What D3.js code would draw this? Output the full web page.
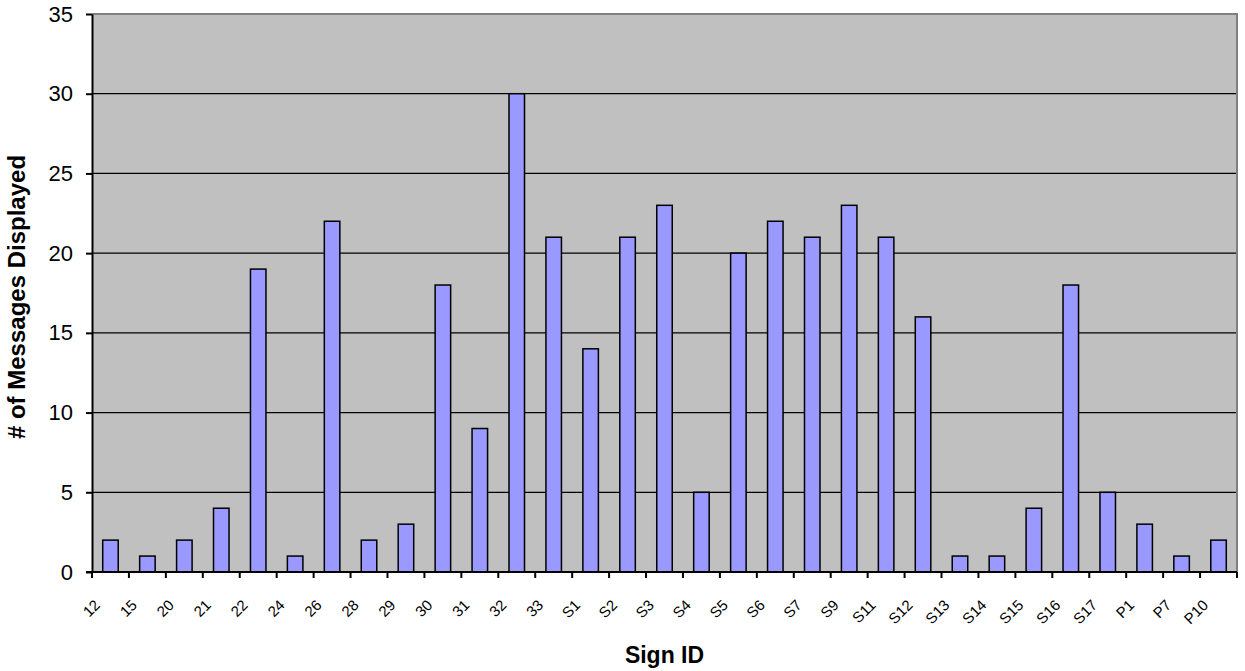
<!doctype html>
<html>
<head>
<meta charset="utf-8">
<script src="https://d3js.org/d3.v7.min.js"></script>
<style>
  body {margin: 0; background: #fff;}
  text {font-family: Arial, "Liberation Sans", sans-serif; fill: #000;}
</style>
</head>
<body>
<svg width="1245" height="671"></svg>
<script>
// sign ids and message counts
var signs = ["12","15","20","21","22","24","26","28","29","30","31","32","33",
             "S1","S2","S3","S4","S5","S6","S7","S9","S11","S12","S13","S14",
             "S15","S16","S17","P1","P7","P10"];
var messages = [2,1,2,4,19,1,22,2,3,18,9,30,21,14,21,23,5,20,22,21,23,21,16,1,1,4,18,5,3,1,2];
var yTicks = [0,5,10,15,20,25,30,35];

var plotL = 92, plotR = 1237, plotT = 14, plotB = 572;
var svg = d3.select("svg");

var x = d3.scaleBand().domain(signs).range([plotL, plotR]).padding(0);
var y = d3.scaleLinear().domain([0, 35]).range([plotB, plotT]);
var bw = x.bandwidth();

// plot area
svg.append("rect")
    .attr("x", plotL).attr("y", plotT)
    .attr("width", plotR - plotL).attr("height", plotB - plotT)
    .attr("fill", "#c0c0c0");

// gridlines
svg.append("g").selectAll("line")
    .data(yTicks.slice(1, -1))
    .enter().append("line")
      .attr("x1", plotL).attr("x2", plotR)
      .attr("y1", function(d){return y(d)}).attr("y2", function(d){return y(d)})
      .attr("stroke", "#000").attr("stroke-width", 1.2);

// gray frame top/right
svg.append("path")
    .attr("d", "M" + plotL + "," + plotT + "H" + plotR + "V" + plotB)
    .attr("fill", "none").attr("stroke", "#808080").attr("stroke-width", 2);

// bars
svg.append("g").selectAll("rect")
    .data(messages)
    .enter().append("rect")
      .attr("x", function(d, i){return x(signs[i]) + bw * 0.29})
      .attr("width", bw * 0.42)
      .attr("y", function(d){return y(d)})
      .attr("height", function(d){return y(0) - y(d)})
      .attr("fill", "#9999ff")
      .attr("stroke", "#000").attr("stroke-width", 1.5);

// y axis
var yAxis = svg.append("g")
    .attr("transform", "translate(" + plotL + ",0)")
    .call(d3.axisLeft(y).tickValues(yTicks).tickSize(6).tickSizeOuter(0).tickPadding(13));
yAxis.select(".domain").attr("stroke", "#000").attr("stroke-width", 2);
yAxis.selectAll(".tick line").attr("stroke", "#000").attr("stroke-width", 2);
yAxis.selectAll(".tick text")
    .style("font-family", "Arial, 'Liberation Sans', sans-serif")
    .style("font-size", "22px");

// x axis line and ticks at category boundaries
svg.append("line")
    .attr("x1", plotL - 6).attr("x2", plotR)
    .attr("y1", plotB).attr("y2", plotB)
    .attr("stroke", "#000").attr("stroke-width", 2);
var bounds = signs.map(function(s){return x(s)}).concat([plotR]);
svg.append("g").selectAll("line")
    .data(bounds)
    .enter().append("line")
      .attr("x1", function(d){return d}).attr("x2", function(d){return d})
      .attr("y1", plotB).attr("y2", plotB + 6)
      .attr("stroke", "#000").attr("stroke-width", 2);

// rotated category labels
svg.append("g").selectAll("text")
    .data(signs)
    .enter().append("text")
      .attr("transform", function(d){return "translate(" + (x(d) + 9) + ",606) rotate(-45)"})
      .attr("text-anchor", "end")
      .style("font-size", "15px")
      .text(function(d){return d});

// axis titles
svg.append("text")
    .attr("transform", "translate(25,297) rotate(-90)")
    .attr("text-anchor", "middle")
    .style("font-size", "24px").style("font-weight", "bold")
    .text("# of Messages Displayed");

svg.append("text")
    .attr("x", (plotL + plotR) / 2).attr("y", 663)
    .attr("text-anchor", "middle")
    .style("font-size", "23px").style("font-weight", "bold")
    .text("Sign ID");
</script>
</body>
</html>
